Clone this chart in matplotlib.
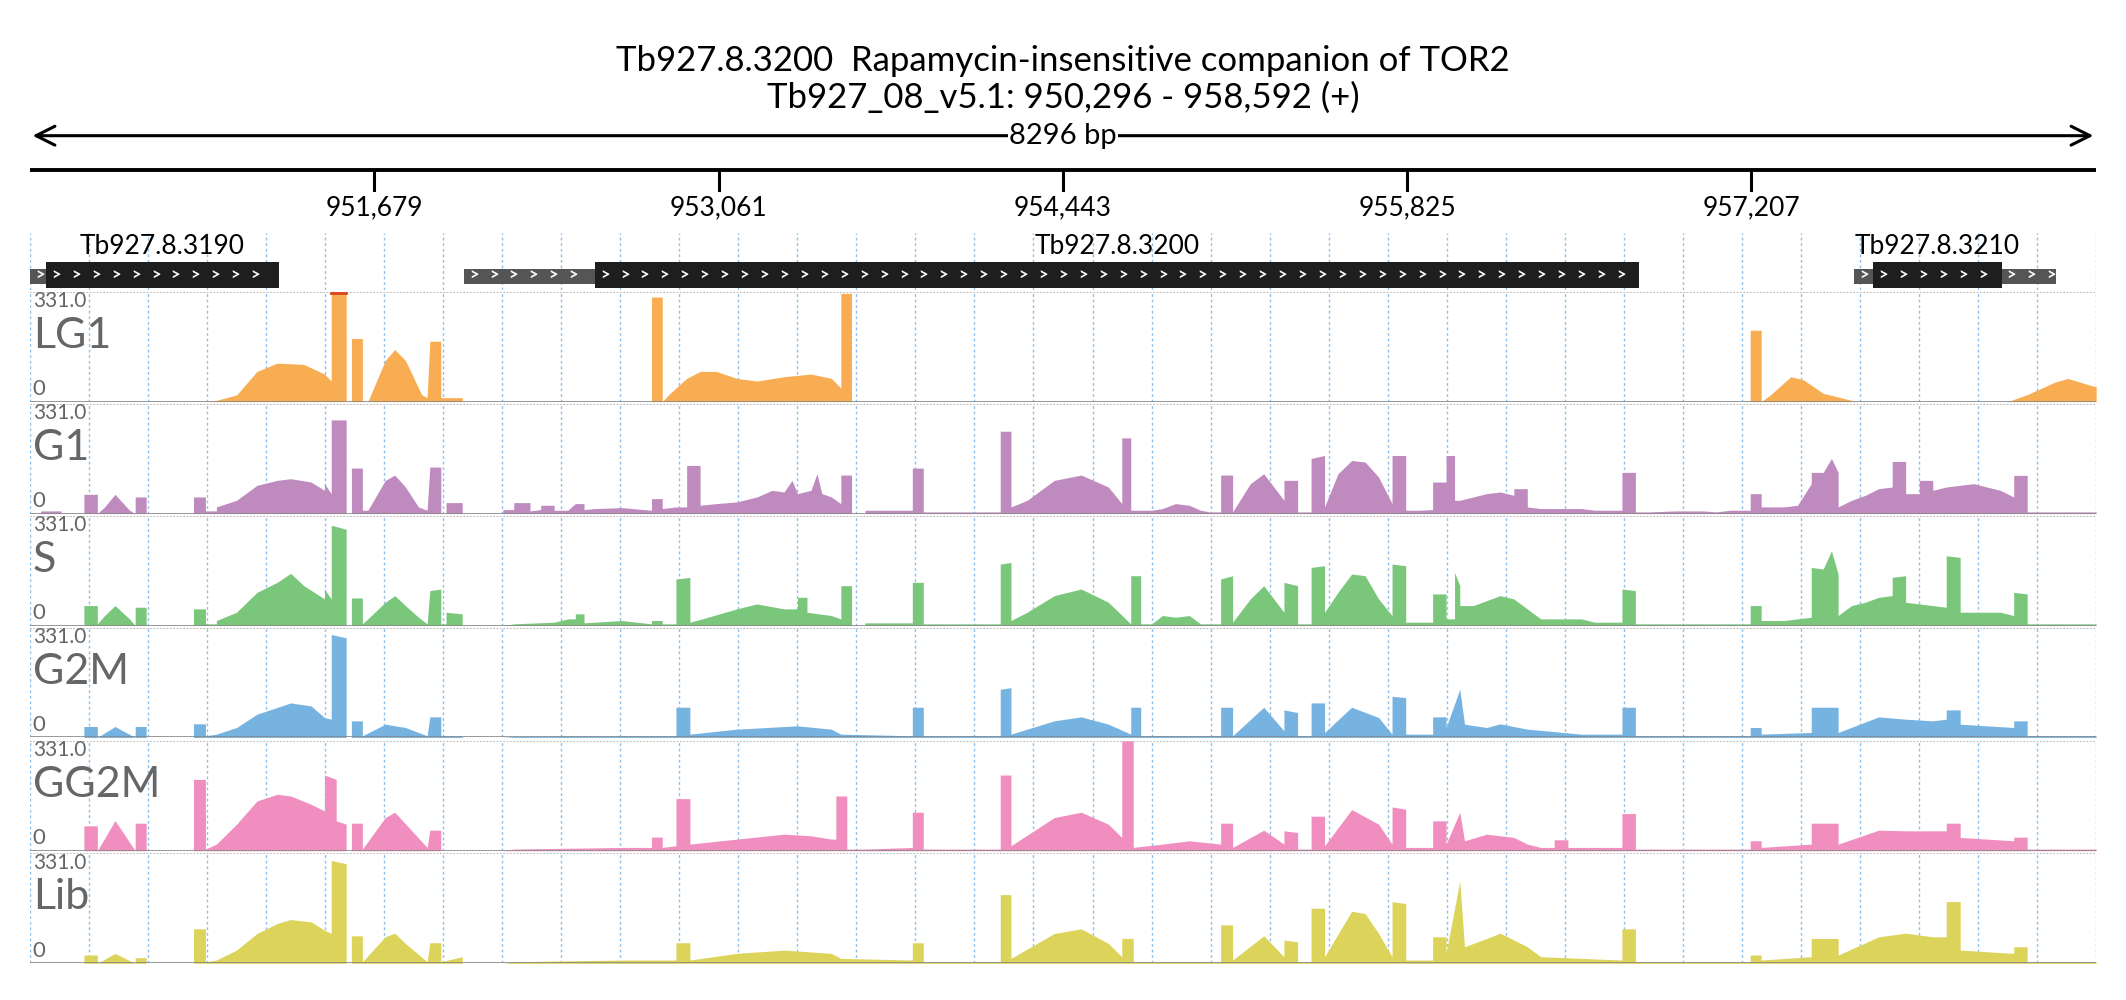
import numpy as np
import matplotlib.pyplot as plt

plt.rcParams['font.family'] = ['Lato', 'DejaVu Sans']

CHROM = 'Tb927_08_v5.1'
START, END = 950296, 958592
LENGTH = END - START
TITLE_GENE = 'Tb927.8.3200  Rapamycin-insensitive companion of TOR2'
TICKS = [951679, 953061, 954443, 955825, 957207]
Y_MAX = 331.0

# genes: (name, [(start, end, kind)])  kind 'utr' thin grey / 'cds' thick black, offsets in bp
GENES = [
    ('Tb927.8.3190', [(0, 65, 'utr'), (65, 1000, 'cds')]),
    ('Tb927.8.3200', [(1742, 2268, 'utr'), (2268, 6462, 'cds')]),
    ('Tb927.8.3210', [(7325, 7400, 'utr'), (7400, 7916, 'cds'), (7916, 8134, 'utr')]),
]

# coverage vertices (bp offset from START, read depth)
LG1 = [(697, 0), (749, 4), (830, 20), (912, 91), (993, 116), (1100, 112), (1183, 83), (1210, 62), (1210, 331),
       (1270, 331), (1270, 0), (1291, 0), (1291, 190), (1335, 190), (1335, 0), (1357, 0), (1427, 124), (1465, 157),
       (1508, 124), (1573, 21), (1595, 12), (1606, 182), (1650, 182), (1650, 12), (1736, 12), (1736, 0),
       (2496, 0), (2496, 315), (2539, 315), (2539, 0), (2565, 21), (2637, 70), (2691, 91), (2756, 91), (2838, 70),
       (2919, 62), (3028, 75), (3136, 83), (3218, 70), (3256, 41), (3256, 326), (3299, 326), (3299, 0),
       (6907, 0), (6907, 215), (6951, 215), (6951, 0), (6989, 21), (7070, 75), (7120, 66), (7200, 25), (7314, 4),
       (7340, 0), (7940, 0), (8019, 21), (8128, 58), (8182, 70), (8269, 50), (8296, 45)]

G1 = [(40, 0), (45, 8), (125, 8), (125, 0), (217, 0), (217, 58), (271, 58), (271, 0), (300, 20), (342, 58), (400, 10),
      (423, 0), (423, 50), (467, 50), (467, 0), (657, 0), (657, 50), (705, 50), (705, 8), (749, 8), (749, 20),
      (830, 40), (912, 85), (993, 100), (1047, 105), (1129, 95), (1183, 70), (1183, 90), (1210, 60), (1210, 282),
      (1270, 282), (1270, 0), (1291, 0), (1291, 137), (1335, 137), (1335, 10), (1357, 10), (1427, 100), (1465, 116),
      (1508, 80), (1560, 20), (1595, 10), (1606, 140), (1650, 140), (1650, 0), (1671, 0), (1671, 33), (1736, 33),
      (1736, 0), (1899, 0), (1899, 12), (1943, 12), (1943, 33), (2008, 33), (2008, 8), (2051, 12), (2051, 25),
      (2105, 25), (2105, 10), (2160, 10), (2190, 30), (2225, 30), (2225, 12), (2268, 15), (2377, 18), (2496, 10),
      (2496, 45), (2539, 45), (2539, 15), (2594, 20), (2637, 20), (2637, 145), (2691, 145), (2691, 25), (2756, 30),
      (2838, 35), (2919, 50), (2980, 70), (3028, 65), (3060, 100), (3082, 60), (3136, 70), (3160, 120), (3180, 60),
      (3218, 50), (3256, 30), (3256, 116), (3299, 116), (3299, 0), (3353, 0), (3353, 10), (3543, 10), (3543, 137),
      (3587, 137), (3587, 5), (3896, 5), (3896, 248), (3939, 248), (3939, 20), (4004, 40), (4113, 100), (4221, 116),
      (4330, 80), (4384, 30), (4384, 228), (4420, 228), (4420, 10), (4504, 10), (4547, 15), (4600, 30), (4655, 25),
      (4700, 10), (4737, 5), (4781, 5), (4781, 116), (4829, 116), (4829, 5), (4900, 90), (4954, 120), (5035, 40),
      (5035, 100), (5090, 100), (5090, 5), (5144, 5), (5144, 166), (5198, 175), (5198, 20), (5252, 120),
      (5307, 160), (5361, 155), (5415, 110), (5469, 30), (5469, 175), (5524, 175), (5524, 10), (5578, 10),
      (5632, 12), (5632, 95), (5686, 95), (5686, 175), (5720, 175), (5720, 40), (5741, 40), (5795, 50), (5849, 60),
      (5903, 65), (5958, 55), (5958, 75), (6012, 75), (6012, 20), (6066, 15), (6229, 15), (6283, 10), (6392, 10),
      (6392, 124), (6446, 124), (6446, 5), (6500, 5), (6609, 8), (6717, 8), (6771, 5), (6826, 10), (6907, 10),
      (6907, 60), (6951, 60), (6951, 20), (7043, 20), (7097, 25), (7152, 90), (7152, 124), (7200, 124), (7233, 166),
      (7260, 124), (7260, 20), (7314, 40), (7369, 55), (7423, 75), (7477, 80), (7477, 157), (7531, 157), (7531, 60),
      (7586, 60), (7586, 100), (7640, 100), (7640, 70), (7694, 80), (7803, 90), (7911, 70), (7965, 50), (7965, 115),
      (8019, 115), (8019, 5), (8296, 5)]

S = [(217, 0), (217, 60), (271, 60), (271, 5), (300, 30), (342, 60), (400, 20), (423, 0), (423, 55), (467, 55),
     (467, 0), (657, 0), (657, 50), (705, 50), (705, 5), (749, 5), (749, 15), (830, 40), (912, 100), (993, 130),
     (1047, 157), (1100, 120), (1183, 80), (1183, 110), (1210, 80), (1210, 302), (1270, 290), (1270, 0), (1291, 0),
     (1291, 83), (1335, 83), (1335, 5), (1357, 20), (1427, 70), (1465, 90), (1508, 60), (1560, 25), (1595, 5),
     (1606, 105), (1650, 110), (1650, 5), (1671, 5), (1671, 40), (1736, 35), (1736, 0), (1899, 0), (1943, 5),
     (2105, 10), (2160, 20), (2190, 20), (2190, 35), (2225, 35), (2225, 8), (2377, 15), (2496, 5), (2496, 15),
     (2539, 15), (2539, 5), (2594, 5), (2594, 140), (2650, 145), (2650, 10), (2700, 20), (2838, 50), (2919, 65),
     (3028, 50), (3082, 50), (3082, 85), (3120, 85), (3120, 40), (3218, 30), (3256, 20), (3256, 120), (3299, 120),
     (3299, 0), (3353, 0), (3353, 8), (3543, 8), (3543, 130), (3587, 130), (3587, 5), (3896, 5), (3896, 185),
     (3939, 190), (3939, 15), (4004, 40), (4113, 90), (4221, 110), (4330, 70), (4420, 5), (4420, 150), (4460, 150),
     (4460, 5), (4504, 5), (4547, 30), (4600, 25), (4655, 30), (4700, 5), (4781, 5), (4781, 140), (4829, 150),
     (4829, 10), (4900, 80), (4954, 120), (5035, 40), (5035, 130), (5090, 120), (5090, 5), (5144, 5), (5144, 175),
     (5198, 180), (5198, 40), (5252, 100), (5307, 155), (5361, 150), (5415, 80), (5469, 30), (5469, 185),
     (5524, 180), (5524, 10), (5632, 10), (5632, 95), (5686, 95), (5686, 20), (5720, 20), (5720, 160), (5741, 120),
     (5741, 60), (5795, 60), (5849, 75), (5903, 90), (5958, 80), (6012, 50), (6066, 20), (6229, 20), (6283, 10),
     (6392, 10), (6392, 110), (6446, 105), (6446, 5), (6907, 5), (6907, 60), (6951, 60), (6951, 15), (7043, 15),
     (7097, 20), (7152, 25), (7152, 175), (7200, 170), (7233, 225), (7260, 155), (7260, 30), (7314, 60),
     (7369, 70), (7423, 85), (7477, 90), (7477, 145), (7531, 150), (7531, 70), (7586, 65), (7640, 60),
     (7694, 55), (7694, 210), (7750, 205), (7750, 40), (7911, 40), (7965, 30), (7965, 100), (8019, 95), (8019, 5),
     (8296, 5)]

G2M = [(217, 0), (217, 33), (271, 33), (271, 0), (342, 33), (423, 0), (423, 33), (467, 33), (467, 0), (657, 0),
       (657, 41), (705, 41), (705, 5), (749, 10), (830, 30), (912, 70), (1047, 104), (1129, 95), (1183, 60),
       (1210, 55), (1210, 310), (1270, 300), (1270, 0), (1291, 0), (1291, 50), (1335, 50), (1335, 5), (1427, 40),
       (1508, 30), (1595, 5), (1606, 62), (1650, 62), (1650, 5), (1736, 5), (1736, 0), (1899, 0), (1943, 3),
       (2594, 5), (2594, 91), (2650, 91), (2650, 10), (2838, 25), (3082, 35), (3218, 25), (3256, 10), (3543, 5),
       (3543, 91), (3587, 91), (3587, 5), (3896, 5), (3896, 145), (3939, 150), (3939, 10), (4113, 50), (4221, 62),
       (4330, 40), (4420, 10), (4420, 91), (4460, 91), (4460, 5), (4781, 5), (4781, 91), (4829, 91), (4829, 5),
       (4954, 91), (5035, 20), (5035, 83), (5090, 75), (5090, 5), (5144, 5), (5144, 104), (5198, 104), (5198, 15),
       (5307, 91), (5415, 60), (5469, 10), (5469, 124), (5524, 120), (5524, 10), (5632, 10), (5632, 62), (5686, 62),
       (5686, 30), (5741, 145), (5760, 40), (5849, 30), (5903, 41), (6012, 25), (6229, 10), (6392, 10), (6392, 91),
       (6446, 91), (6446, 5), (6907, 5), (6907, 30), (6951, 30), (6951, 10), (7152, 15), (7152, 91), (7260, 91),
       (7260, 15), (7423, 62), (7531, 55), (7640, 50), (7694, 55), (7694, 83), (7750, 83), (7750, 40), (7965, 30),
       (7965, 50), (8019, 50), (8019, 5), (8296, 5)]

GG2M = [(217, 0), (217, 75), (271, 75), (271, 0), (342, 91), (423, 0), (423, 83), (467, 83), (467, 0), (657, 0),
        (657, 215), (705, 215), (705, 5), (749, 20), (830, 80), (912, 150), (993, 170), (1047, 165), (1129, 140),
        (1183, 120), (1183, 228), (1230, 215), (1230, 90), (1270, 80), (1270, 0), (1291, 0), (1291, 83), (1335, 83),
        (1335, 5), (1427, 100), (1465, 116), (1595, 10), (1606, 62), (1650, 62), (1650, 0), (1899, 0), (1943, 5),
        (2377, 10), (2496, 10), (2496, 41), (2539, 41), (2539, 10), (2594, 15), (2594, 157), (2650, 157),
        (2650, 20), (2838, 35), (3028, 50), (3136, 45), (3218, 35), (3236, 35), (3236, 165), (3280, 165), (3280, 5),
        (3353, 5), (3543, 10), (3543, 116), (3587, 116), (3587, 5), (3896, 5), (3896, 228), (3939, 228), (3939, 15),
        (4113, 100), (4221, 116), (4330, 80), (4384, 40), (4384, 331), (4430, 331), (4430, 10), (4547, 20),
        (4655, 30), (4781, 20), (4781, 83), (4829, 83), (4829, 10), (4954, 62), (5035, 20), (5035, 60), (5090, 55),
        (5090, 5), (5144, 5), (5144, 104), (5198, 104), (5198, 15), (5307, 124), (5415, 80), (5469, 20),
        (5469, 132), (5524, 125), (5524, 10), (5632, 10), (5632, 90), (5686, 90), (5686, 20), (5741, 116),
        (5760, 30), (5849, 50), (5958, 40), (6012, 20), (6066, 10), (6120, 10), (6120, 33), (6175, 33), (6175, 10),
        (6392, 10), (6392, 112), (6446, 112), (6446, 5), (6907, 5), (6907, 30), (6951, 30), (6951, 10), (7152, 20),
        (7152, 83), (7260, 83), (7260, 20), (7423, 62), (7531, 60), (7640, 60), (7694, 60), (7694, 83), (7750, 83),
        (7750, 40), (7965, 30), (7965, 41), (8019, 41), (8019, 5), (8296, 5)]

LIB = [(217, 0), (217, 25), (271, 25), (271, 0), (342, 30), (423, 0), (423, 17), (467, 17), (467, 0), (657, 0),
       (657, 104), (705, 104), (705, 5), (749, 10), (830, 40), (912, 90), (993, 120), (1047, 132), (1129, 125),
       (1183, 100), (1210, 90), (1210, 310), (1270, 300), (1270, 0), (1291, 0), (1291, 83), (1335, 83), (1335, 5),
       (1427, 80), (1465, 91), (1508, 60), (1595, 5), (1606, 62), (1650, 62), (1650, 5), (1736, 20), (1736, 0),
       (1899, 0), (1943, 5), (2377, 10), (2594, 10), (2594, 62), (2650, 62), (2650, 10), (2838, 30), (3028, 40),
       (3218, 30), (3256, 15), (3543, 10), (3543, 62), (3587, 62), (3587, 5), (3896, 5), (3896, 207), (3939, 207),
       (3939, 15), (4113, 90), (4221, 104), (4330, 60), (4384, 20), (4384, 75), (4430, 75), (4430, 5), (4781, 5),
       (4781, 116), (4829, 116), (4829, 10), (4954, 83), (5035, 20), (5035, 70), (5090, 65), (5090, 5), (5144, 5),
       (5144, 166), (5198, 166), (5198, 20), (5307, 157), (5361, 150), (5415, 90), (5469, 20), (5469, 186),
       (5524, 180), (5524, 10), (5632, 10), (5632, 80), (5686, 80), (5686, 30), (5741, 248), (5760, 50),
       (5849, 75), (5903, 91), (6012, 50), (6066, 20), (6229, 15), (6392, 10), (6392, 104), (6446, 104), (6446, 5),
       (6907, 5), (6907, 25), (6951, 25), (6951, 10), (7152, 20), (7152, 75), (7260, 75), (7260, 25), (7423, 80),
       (7531, 91), (7640, 80), (7694, 80), (7694, 186), (7750, 186), (7750, 40), (7965, 30), (7965, 50), (8019, 50),
       (8019, 5), (8296, 5)]

TRACK_NAMES = ['LG1', 'G1', 'S', 'G2M', 'GG2M', 'Lib']
TRACK_DATA = [LG1, G1, S, G2M, GG2M, LIB]
TRACK_COLORS = ['#f9ad52', '#bf8bbf', '#7ac77c', '#77b3e0', '#f08fbf', '#dcd35a']

W, H = 1568.0, 737.0  # layout units of the reference
fig = plt.figure(figsize=(21.26, 10), dpi=100)
LEFT, RIGHT = 22 / W, 1546 / W


def add_ax(top, bottom):
    ax = fig.add_axes([LEFT, 1 - bottom / H, RIGHT - LEFT, (bottom - top) / H])
    ax.set_xlim(0, LENGTH)
    ax.axis('off')
    return ax


grid_x = np.linspace(0, LENGTH, 36)

fig.text(0.5, 1 - 45 / H, TITLE_GENE, ha='center', va='center', fontsize=25)
fig.text(0.5, 1 - 72 / H, f'{CHROM}: {START:,} - {END:,} (+)', ha='center', va='center', fontsize=25)

# ruler
rax = add_ax(85, 172)
rax.set_ylim(0, 87)
rax.annotate('', xy=(0, 72), xytext=(LENGTH, 72),
             arrowprops=dict(arrowstyle='<->', lw=2.2, color='black', mutation_scale=34))
rax.text(LENGTH / 2, 72, f'{LENGTH} bp', ha='center', va='center', fontsize=21,
         bbox=dict(facecolor='white', edgecolor='none', pad=1))
rax.plot([0, LENGTH], [47, 47], color='black', lw=2.8)
for t in TICKS:
    rax.plot([t - START] * 2, [47, 32], color='black', lw=2.2)
    rax.text(t - START, 28, f'{t:,}', ha='center', va='top', fontsize=19)

# genes
gax = add_ax(172, 214)
gax.set_ylim(0, 42)
for gx in grid_x:
    gax.axvline(gx, color='#8ec0ea', ls=(0, (2, 2)), lw=1)
for name, parts in GENES:
    for s, e, kind in parts:
        if kind == 'cds':
            gax.fill_between([s, e], 2, 21, color='#1e1e1e', lw=0, zorder=3)
        else:
            gax.fill_between([s, e], 5, 16, color='#555555', lw=0, zorder=2)
        for cx in np.arange(s + 40, e - 15, 80):
            gax.text(cx, 11, '>', color='white', ha='center', va='center', fontsize=12,
                     fontweight='bold', zorder=4)
    cds = [p for p in parts if p[2] == 'cds'][0]
    gax.text((cds[0] + cds[1]) / 2, 32, name, ha='center', va='center', fontsize=19, zorder=5)

# coverage tracks
tops = [215, 297.5, 380, 462.5, 546, 629]
for name, data, color, top in zip(TRACK_NAMES, TRACK_DATA, TRACK_COLORS, tops):
    ax = add_ax(top, top + 81)
    ax.set_ylim(0, Y_MAX)
    for gx in grid_x:
        ax.axvline(gx, color='#8ec0ea', ls=(0, (2, 2)), lw=1, zorder=0)
    xs = [p[0] for p in data]
    ys = [p[1] for p in data]
    ax.fill_between(xs, 0, ys, color=color, lw=0, zorder=2)
    clipped = [(xs[i], xs[i + 1]) for i in range(len(xs) - 1) if ys[i] >= Y_MAX and ys[i + 1] >= Y_MAX]
    if name == 'LG1':
        for a, b in clipped:
            ax.plot([a, b], [Y_MAX - 3, Y_MAX - 3], color='#d9431e', lw=2, zorder=3)
    ax.axhline(Y_MAX, color='#aaaaaa', ls=(0, (1, 1)), lw=1.2, zorder=1)
    ax.axhline(0, color='#888888', lw=1.2, zorder=3)
    ax.text(12, Y_MAX + 2, f'{Y_MAX:.1f}', ha='left', va='top', fontsize=15, color='#666666', zorder=5)
    ax.text(12, Y_MAX * 0.6, name, ha='left', va='center', fontsize=31, color='#666666', zorder=5)
    ax.text(12, 8, '0', ha='left', va='bottom', fontsize=16, color='#666666', zorder=5)

fig.savefig('out.png', dpi=100)
